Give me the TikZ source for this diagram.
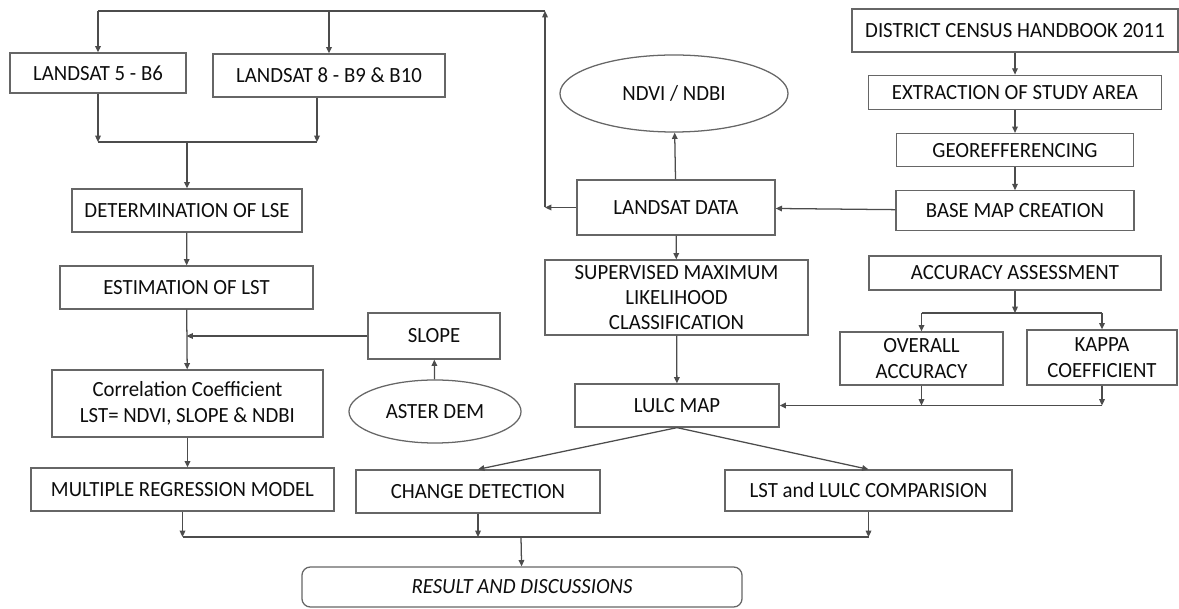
\documentclass[tikz,border=0pt]{standalone}
\usepackage{fontspec}
\setmainfont{Carlito}[FakeStretch=0.96]
\usepackage{tikz}
\usetikzlibrary{positioning,arrows.meta,shapes.geometric}

\begin{document}
\begin{tikzpicture}[
  x=0.025cm, y=-0.025cm,
  node distance=0.55cm,
  box/.style={draw=black!60, line width=0.9pt, minimum height=1.075cm, inner sep=0pt,
              font=\fontsize{15.4}{18}\selectfont, text=black!95, align=center},
  oval/.style={box, ellipse},
  arr/.style={-{Triangle[length=4.5pt,width=4pt]}, draw=black!70, line width=0.9pt},
  line/.style={draw=black!70, line width=0.9pt}
]
\useasboundingbox (0,0) rectangle (1179,609);

\node[box, minimum width=4.4cm, minimum height=1cm] (l5) at (98,73) {LANDSAT 5 - B6};
\node[box, minimum width=5.8cm] (l8) at (329,75.5) {LANDSAT 8 - B9 \& B10};
\node[box, minimum width=5.75cm] (lse) at (187,210.5) {DETERMINATION OF LSE};
\node[box, minimum width=6.325cm] (lst) at (186.5,287.5) {ESTIMATION OF LST};
\node[box, minimum width=6.775cm, minimum height=1.675cm] (corr) at (187.5,403.5) {Correlation Coefficient\\LST= NDVI, SLOPE \& NDBI};
\node[box, minimum width=7.575cm] (mrm) at (182.5,489.5) {MULTIPLE REGRESSION MODEL};
\node[box, minimum width=3.3cm, minimum height=1.15cm] (slope) at (434,336) {SLOPE};
\node[oval, minimum width=4.3cm, minimum height=1.575cm] (aster) at (435,411.5) {ASTER DEM};

\node[oval, minimum width=5.7cm, minimum height=1.925cm] (ndvi) at (674,93.5) {NDVI / NDBI};
\node[box, minimum width=4.95cm, minimum height=1.375cm] (ld) at (676,207.5) {LANDSAT DATA};
\node[box, minimum width=6.575cm, minimum height=1.875cm] (smlc) at (676.5,297.5) {SUPERVISED MAXIMUM\\LIKELIHOOD\\CLASSIFICATION};
\node[box, minimum width=5.1cm] (lulc) at (677,405.5) {LULC MAP};
\node[box, minimum width=6.1cm] (cd) at (478,491.5) {CHANGE DETECTION};
\node[box, minimum width=7.175cm, minimum height=1.025cm] (cmp) at (868.5,490.5) {LST and LULC COMPARISION};
\node[box, rounded corners=6pt, minimum width=11cm, minimum height=1cm,
      font=\fontsize{15.4}{18}\selectfont\itshape] (res) at (522,587) {RESULT AND DISCUSSIONS};

\node[box, minimum width=8.15cm] (dch) at (1015,30.5) {DISTRICT CENSUS HANDBOOK 2011};
\node[box, minimum width=7.325cm, minimum height=0.85cm, below=of dch] (esa) {EXTRACTION OF STUDY AREA};
\node[box, minimum width=5.925cm, minimum height=0.825cm, below=0.575cm of esa] (geo) {GEOREFFERENCING};
\node[box, minimum width=5.95cm, minimum height=1cm, below=0.575cm of geo] (bmc) {BASE MAP CREATION};
\node[box, minimum width=7.3cm, minimum height=0.85cm] (acc) at (1015,273) {ACCURACY ASSESSMENT};
\node[box, minimum width=4.075cm, minimum height=1.325cm] (oa) at (921.5,358.5) {OVERALL\\ACCURACY};
\node[box, minimum width=3.75cm, minimum height=1.375cm] (kc) at (1102,357.5) {KAPPA\\COEFFICIENT};

\coordinate (bend) at (545,207.5);
\coordinate (topr) at (545,11);
\coordinate (topl) at (98,11);
\coordinate (jtop) at (187,142);
\coordinate (jbot) at (521,537);
\coordinate (jacc) at (1018,313);
\coordinate (l8o) at ([xshift=-0.3cm]l8.south);

\draw[arr] (ld) -- (bend);
\draw[arr] (bend) -- (topr);
\draw[line] (topr) -- (topl);
\draw[arr] (topl) -- (l5);
\draw[arr] (l8 |- topr) -- (l8);
\draw[arr] (l5) -- (l5 |- jtop);
\draw[arr] (l8o) -- (l8o |- jtop);
\draw[line] (l5 |- jtop) -- (l8o |- jtop);
\draw[arr] (jtop) -- (lse);
\draw[arr] (lse) -- (lst);
\draw[arr] (lst) -- (corr);
\draw[arr] (slope) -- (slope -| lst);
\draw[arr] (aster) -- (slope);
\draw[arr] (corr) -- (corr |- mrm.north);

\draw[arr] (ld) -- (ndvi);
\draw[arr] (bmc) -- (ld);
\draw[arr] (ld) -- (smlc);
\draw[arr] (smlc) -- (lulc);
\draw[arr] (dch) -- (esa);
\draw[arr] (esa) -- (geo);
\draw[arr] (geo) -- (bmc);

\draw[arr] (acc) -- (acc |- jacc);
\draw[line] (oa |- jacc) -- (kc |- jacc);
\draw[arr] (oa |- jacc) -- (oa);
\draw[arr] (kc |- jacc) -- (kc);
\draw[arr] (oa) -- (oa |- lulc.east);
\draw[arr] (kc) -- (kc |- lulc.east);
\draw[arr] (kc |- lulc.east) -- (lulc.east);

\draw[arr] (lulc.south) -- (cd.north);
\draw[arr] (lulc.south) -- (cmp.north);
\draw[arr] (mrm.south) -- (mrm.south |- jbot);
\draw[arr] (cd.south) -- (cd.south |- jbot);
\draw[arr] (cmp.south) -- (cmp.south |- jbot);
\draw[line] (mrm.south |- jbot) -- (cmp.south |- jbot);
\draw[arr] (jbot) -- (res);
\end{tikzpicture}
\end{document}
